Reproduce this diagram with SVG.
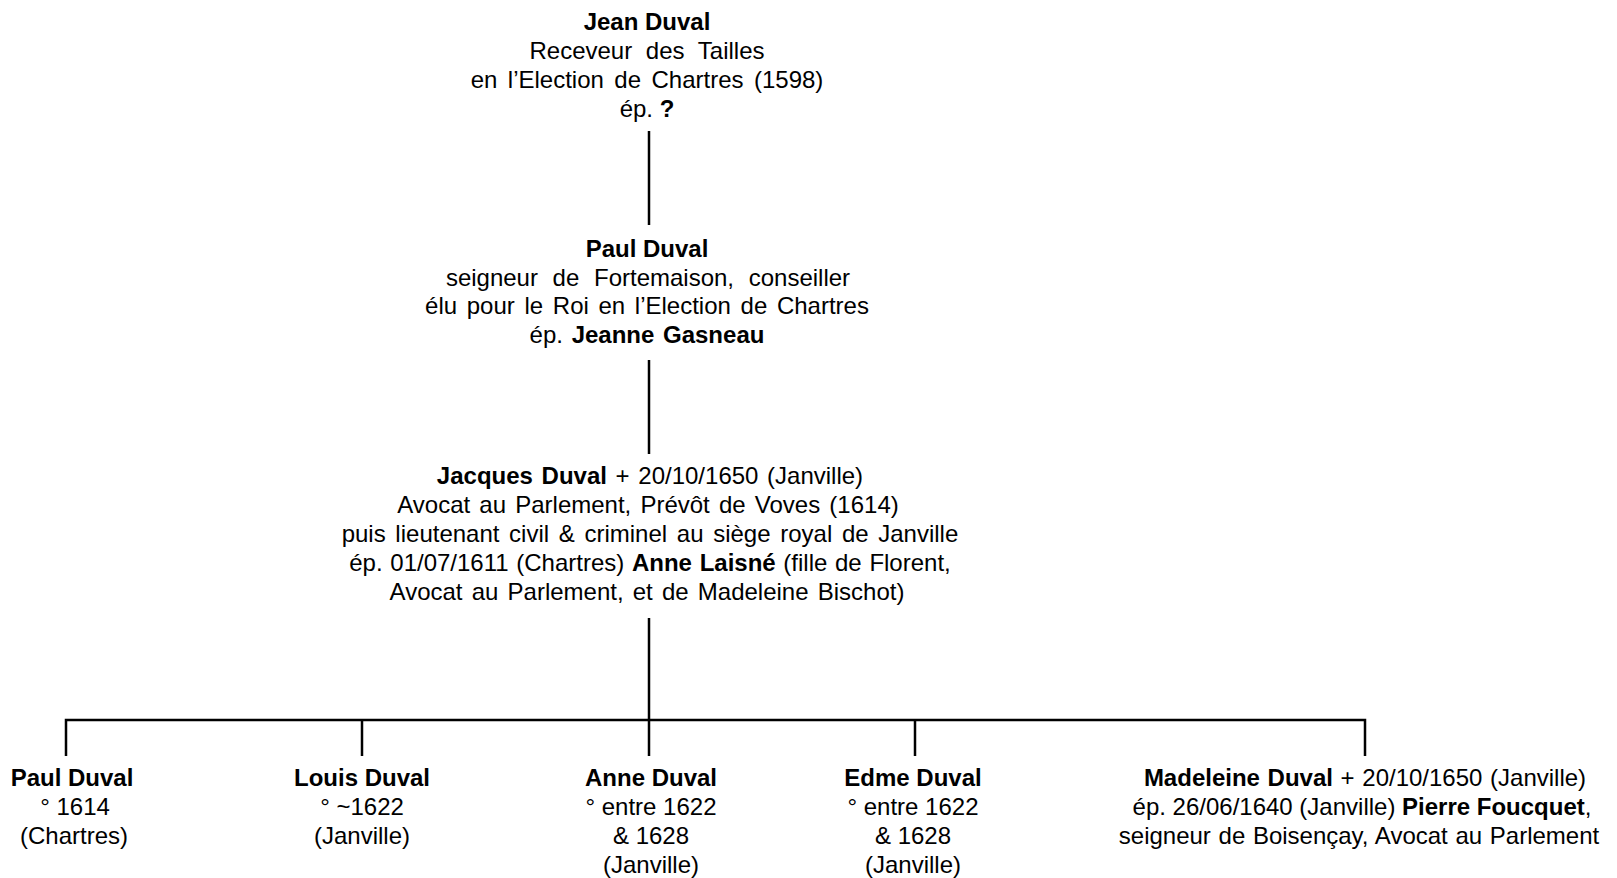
<svg xmlns="http://www.w3.org/2000/svg" width="1617" height="878" viewBox="0 0 1617 878">
<style>
text{font-family:"Liberation Sans",Arial,sans-serif;font-size:24px;fill:#000;text-anchor:middle}
.b{font-weight:bold}
.ln{stroke:#000;stroke-width:2.5;fill:none}
</style>
<rect width="1617" height="878" fill="#fff"/>
<g id="connectors">
<line class="ln" x1="649" y1="131" x2="649" y2="225"/>
<line class="ln" x1="649" y1="360" x2="649" y2="454"/>
<line class="ln" x1="649" y1="618" x2="649" y2="720"/>
<polyline class="ln" points="66,756 66,720 1365,720 1365,756"/>
<line class="ln" x1="362" y1="720" x2="362" y2="756"/>
<line class="ln" x1="649" y1="720" x2="649" y2="756"/>
<line class="ln" x1="915" y1="720" x2="915" y2="756"/>
</g>
<g id="jean">
<text x="647" y="30" class="b">Jean Duval</text>
<text x="647" y="59" word-spacing="7">Receveur des Tailles</text>
<text x="647" y="88" word-spacing="3.8">en l’Election de Chartres (1598)</text>
<text x="647" y="117">ép. <tspan class="b">?</tspan></text>
</g>
<g id="paul">
<text x="647" y="257" class="b">Paul Duval</text>
<text x="648" y="285.5" word-spacing="8">seigneur de Fortemaison, conseiller</text>
<text x="647" y="314" word-spacing="3">élu pour le Roi en l’Election de Chartres</text>
<text x="647" y="342.5" word-spacing="2">ép. <tspan class="b">Jeanne Gasneau</tspan></text>
</g>
<g id="jacques">
<text x="650" y="483.5" word-spacing="2"><tspan class="b">Jacques Duval</tspan> + 20/10/1650 (Janville)</text>
<text x="648" y="512.5" word-spacing="2.5">Avocat au Parlement, Prévôt de Voves (1614)</text>
<text x="650" y="541.5" word-spacing="3">puis lieutenant civil &amp; criminel au siège royal de Janville</text>
<text x="650" y="570.5" word-spacing="1">ép. 01/07/1611 (Chartres) <tspan class="b">Anne Laisné</tspan> (fille de Florent,</text>
<text x="647" y="599.5" word-spacing="2.5">Avocat au Parlement, et de Madeleine Bischot)</text>
</g>
<g id="paul2">
<text x="72" y="786" class="b">Paul Duval</text>
<text x="75" y="815">°  1614</text>
<text x="74" y="844">(Chartres)</text>
</g>
<g id="louis">
<text x="362" y="786" class="b">Louis Duval</text>
<text x="362" y="815">°  ~1622</text>
<text x="362" y="844">(Janville)</text>
</g>
<g id="anne">
<text x="651" y="786" class="b">Anne Duval</text>
<text x="651" y="815">° entre 1622</text>
<text x="651" y="844">&amp; 1628</text>
<text x="651" y="873">(Janville)</text>
</g>
<g id="edme">
<text x="913" y="786" class="b">Edme Duval</text>
<text x="913" y="815">° entre 1622</text>
<text x="913" y="844">&amp; 1628</text>
<text x="913" y="873">(Janville)</text>
</g>
<g id="madeleine">
<text x="1365" y="786" word-spacing="1"><tspan class="b">Madeleine Duval</tspan> + 20/10/1650 (Janville)</text>
<text x="1362" y="815">ép. 26/06/1640 (Janville) <tspan class="b">Pierre Foucquet</tspan>,</text>
<text x="1359" y="844" word-spacing="1">seigneur de Boisençay, Avocat au Parlement</text>
</g>
</svg>
